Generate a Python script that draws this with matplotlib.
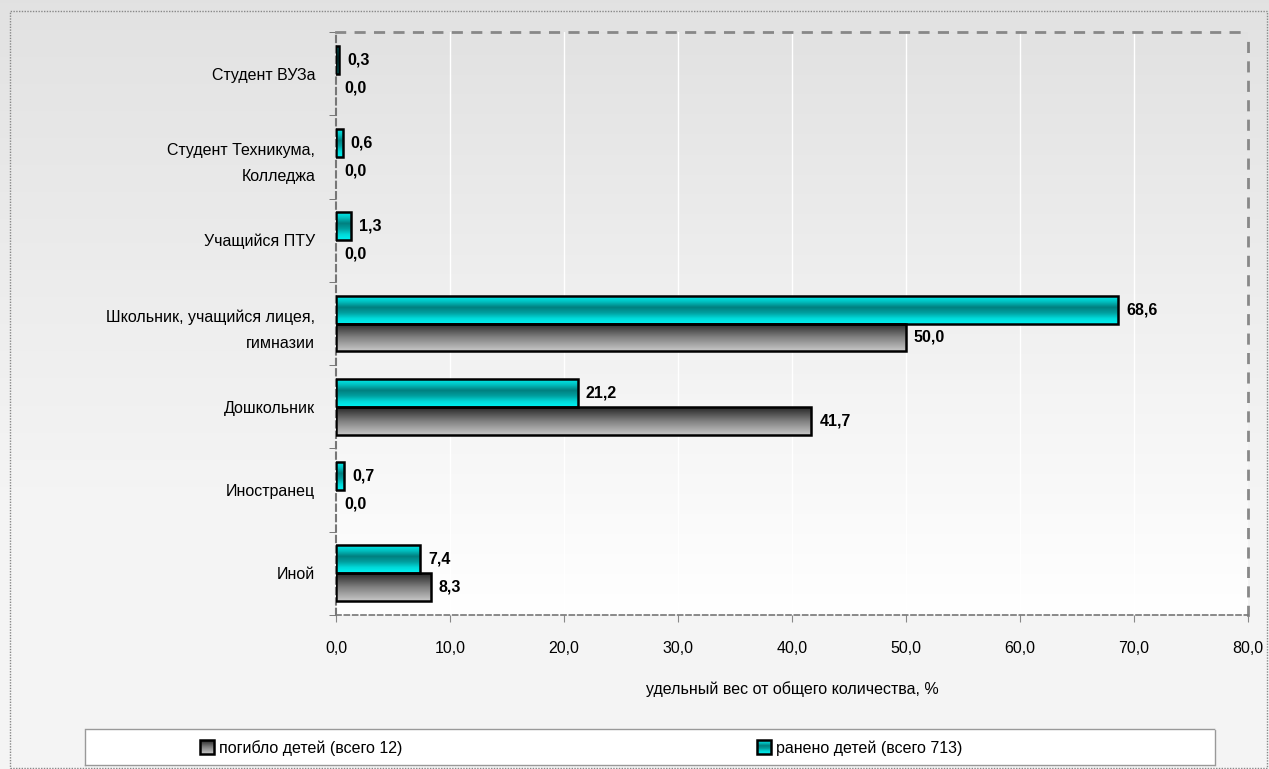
import numpy as np
import matplotlib.pyplot as plt
from matplotlib.patches import Rectangle

plt.rcParams['font.family'] = ['Liberation Sans', 'DejaVu Sans']

categories = ["Студент ВУЗа", "Студент Техникума,\nКолледжа", "Учащийся ПТУ",
              "Школьник, учащийся лицея,\nгимназии", "Дошкольник", "Иностранец", "Иной"]
injured = [0.3, 0.6, 1.3, 68.6, 21.2, 0.7, 7.4]
killed = [0.0, 0.0, 0.0, 50.0, 41.7, 0.0, 8.3]
label_killed = "погибло детей (всего 12)"
label_injured = "ранено детей (всего 713)"
xticks = [0, 10, 20, 30, 40, 50, 60, 70, 80]
xtick_labels = ["0,0", "10,0", "20,0", "30,0", "40,0", "50,0", "60,0", "70,0", "80,0"]


def fmt(v):
    return f"{v:.1f}".replace(".", ",")


W, H = 1269, 769
fig = plt.figure(figsize=(W / 100, H / 100), dpi=100)

# figure background gradient
bg = fig.add_axes([0, 0, 1, 1], zorder=-10)
g = np.linspace(0, 1, 256).reshape(-1, 1)
bg_vals = np.clip(0.886 + 0.07 * g * 1.6, 0, 0.957)
bg.imshow(np.dstack([bg_vals] * 3), aspect='auto', extent=[0, 1, 0, 1], origin='upper')
bg.set_xlim(0, 1)
bg.set_ylim(0, 1)
bg.axis('off')
bg.add_patch(Rectangle((10 / W, 0.001), 1258 / W - 0.0005, (H - 12) / H,
                       fill=False, ec='#888888', lw=1.0, ls=(0, (1, 1))))

ax = fig.add_axes([336 / W, 1 - 615 / H, 912 / W, 583 / H])
n = len(categories)
ax.set_xlim(0, 80)
ax.set_ylim(n - 0.5, -0.5)

# plot area gradient
pa = np.linspace(0.886, 1.0, 256).reshape(-1, 1)
ax.imshow(np.dstack([pa] * 3), aspect='auto', extent=[0, 80, n - 0.5, -0.5],
          origin='upper', zorder=0)
for x in xticks[1:-1]:
    ax.axvline(x, color='white', lw=1.0, zorder=1)

h = 0.336
cyan_grad = np.array([[0.0, 0.93, 0.93], [0.0, 0.75, 0.75], [0.0, 0.5, 0.5],
                      [0.0, 0.62, 0.62], [0.0, 0.85, 0.85], [0.0, 0.95, 0.95]])
cy = np.linspace(0, 1, len(cyan_grad))
t = np.linspace(0, 1, 64)
cyan_img = np.stack([np.interp(t, cy, cyan_grad[:, k]) for k in range(3)], axis=1).reshape(-1, 1, 3)
gray_vals = np.interp(t, [0, 0.5, 1], [0.15, 0.5, 0.78])
gray_img = np.dstack([gray_vals.reshape(-1, 1)] * 3)

for i in range(n):
    for val, y0, img in [(injured[i], i - h, cyan_img), (killed[i], i, gray_img)]:
        if val > 0:
            ax.imshow(img, aspect='auto', extent=[0, val, y0 + h, y0], origin='upper', zorder=2)
            ax.add_patch(Rectangle((0, y0), val, h, fill=False, ec='black', lw=1.8, zorder=3))
        ax.text(val + 0.7, y0 + h / 2, fmt(val), va='center', ha='left',
                fontsize=11.5, fontweight='bold', zorder=4)

ax.set_yticks(range(n))
ax.set_yticklabels(categories, fontsize=11.5, linespacing=1.9)
ax.set_yticks(np.arange(-0.5, n, 1), minor=True)
ax.tick_params(axis='y', which='major', length=0, pad=15)
ax.tick_params(axis='y', which='minor', length=5, color='#666666', direction='out')
ax.set_xticks(xticks)
ax.set_xticklabels(xtick_labels, fontsize=11.5)
ax.tick_params(axis='x', length=5, color='#888888', pad=14)
ax.set_xlabel("удельный вес от общего количества, %", fontsize=11.5, labelpad=18)

for side in ['top', 'right']:
    ax.spines[side].set_color('#888888')
    ax.spines[side].set_linewidth(2.0)
    ax.spines[side].set_linestyle((0, (3, 4)))
ax.spines['left'].set_color('#777777')
ax.spines['left'].set_linewidth(1.5)
ax.spines['left'].set_linestyle((0, (3, 2)))
ax.spines['bottom'].set_color('#777777')
ax.spines['bottom'].set_linewidth(1.2)
ax.spines['bottom'].set_linestyle((0, (3, 2)))

# legend
lax = fig.add_axes([85 / W, 1 - 765 / H, 1130 / W, 36 / H])
lax.set_xlim(0, 1130)
lax.set_ylim(36, 0)
lax.set_xticks([])
lax.set_yticks([])
lax.set_facecolor('white')
for s in lax.spines.values():
    s.set_color('#999999')
    s.set_linestyle((0, (1, 1)))
    s.set_linewidth(1.0)
for x0, img, lab in [(115, gray_img, label_killed), (672, cyan_img, label_injured)]:
    lax.imshow(img, aspect='auto', extent=[x0, x0 + 14, 25, 11], origin='upper')
    lax.add_patch(Rectangle((x0, 11), 14, 14, fill=False, ec='black', lw=1.8))
    lax.text(x0 + 19, 19, lab, va='center', ha='left', fontsize=11.5)

fig.savefig("out.png", dpi=100)
